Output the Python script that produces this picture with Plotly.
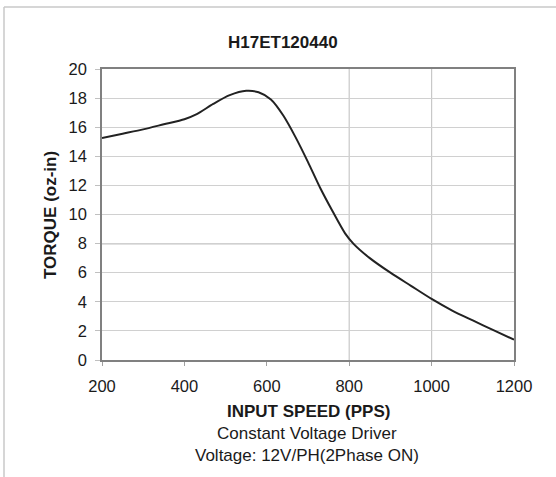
import plotly.graph_objects as go

title_text = "H17ET120440"
x_title = "INPUT SPEED (PPS)"
y_title = "TORQUE (oz-in)"
subtitle_1 = "Constant Voltage Driver"
subtitle_2 = "Voltage: 12V/PH(2Phase ON)"

speed_pps = [200, 250, 300, 350, 400, 430, 470, 510, 550, 580, 610, 640, 670, 700,
             730, 760, 790, 810, 850, 900, 950, 1000, 1050, 1100, 1150, 1200]
torque_ozin = [15.25, 15.55, 15.85, 16.2, 16.55, 16.9, 17.6, 18.2, 18.5, 18.4, 17.9,
               16.8, 15.3, 13.6, 11.8, 10.2, 8.7, 8.0, 7.0, 6.0, 5.1, 4.2, 3.4, 2.72,
               2.05, 1.4]

x_ticks = [200, 400, 600, 800, 1000, 1200]
y_ticks = [0, 2, 4, 6, 8, 10, 12, 14, 16, 18, 20]
x_grid = [800, 1000]
y_dark_grid = [8]

W, H = 556, 477
L, R, T, B = 102, 42, 69, 117
pw, ph = W - L - R, H - T - B

def px_to_paper_x(px):
    return (px - L) / pw

def py_to_paper_y(py):
    return (H - B - py) / ph

FONT = "Liberation Sans, Arial, sans-serif"
TXT = "#1a1a1a"

fig = go.Figure()
fig.add_trace(go.Scatter(
    x=speed_pps, y=torque_ozin, mode="lines",
    line=dict(color="#222222", width=2, shape="spline", smoothing=0.7),
    hoverinfo="skip", showlegend=False))

shapes = []
for gx in x_grid:
    shapes.append(dict(type="line", xref="x", yref="y domain", x0=gx, x1=gx, y0=0, y1=1,
                       line=dict(color="#c8c8c8", width=1.2), layer="below"))
for gy in y_dark_grid:
    shapes.append(dict(type="line", xref="x domain", yref="y", x0=0, x1=1, y0=gy, y1=gy,
                       line=dict(color="#888888", width=1.2), layer="below"))
# outer frame (top and left)
shapes.append(dict(type="line", xref="paper", yref="paper",
                   x0=px_to_paper_x(4), x1=px_to_paper_x(W), y0=py_to_paper_y(7), y1=py_to_paper_y(7),
                   line=dict(color="#c8c8c8", width=1.5)))
shapes.append(dict(type="line", xref="paper", yref="paper",
                   x0=px_to_paper_x(4), x1=px_to_paper_x(4), y0=py_to_paper_y(7), y1=py_to_paper_y(H),
                   line=dict(color="#c8c8c8", width=1.5)))

annotations = [
    dict(text="<b>%s</b>" % title_text, xref="paper", yref="paper",
         x=px_to_paper_x(282.5), y=py_to_paper_y(42), xanchor="center", yanchor="middle",
         showarrow=False, font=dict(size=17, family=FONT, color=TXT)),
    dict(text="<b>%s</b>" % x_title, xref="paper", yref="paper",
         x=px_to_paper_x(308), y=py_to_paper_y(411), xanchor="center", yanchor="middle",
         showarrow=False, font=dict(size=17, family=FONT, color=TXT)),
    dict(text=subtitle_1, xref="paper", yref="paper",
         x=px_to_paper_x(307), y=py_to_paper_y(433), xanchor="center", yanchor="middle",
         showarrow=False, font=dict(size=17, family=FONT, color=TXT)),
    dict(text=subtitle_2, xref="paper", yref="paper",
         x=px_to_paper_x(307), y=py_to_paper_y(455), xanchor="center", yanchor="middle",
         showarrow=False, font=dict(size=17, family=FONT, color=TXT)),
    dict(text="<b>%s</b>" % y_title, xref="paper", yref="paper",
         x=px_to_paper_x(50), y=py_to_paper_y(215), xanchor="center", yanchor="middle",
         textangle=-90, showarrow=False, font=dict(size=17, family=FONT, color=TXT)),
]

fig.update_layout(
    width=W, height=H,
    margin=dict(l=L, r=R, t=T, b=B, pad=0),
    paper_bgcolor="white", plot_bgcolor="white",
    font=dict(family=FONT, color=TXT, size=16.5),
    shapes=shapes, annotations=annotations,
    xaxis=dict(range=[200, 1200], tickvals=x_ticks, showgrid=False, zeroline=False,
               showline=True, linecolor="#808080", linewidth=1.5, mirror=True,
               ticks="outside", ticklen=4, tickcolor="#a0a0a0", tickwidth=1,
               tickfont=dict(size=16.5, family=FONT, color=TXT), ticklabelstandoff=6),
    yaxis=dict(range=[0, 20], tickvals=y_ticks, showgrid=True, gridcolor="#d0d0d0", gridwidth=1.2,
               zeroline=False, showline=True, linecolor="#808080", linewidth=1.5, mirror=True,
               ticks="outside", ticklen=5, tickcolor="#c0c0c0", tickwidth=1,
               tickfont=dict(size=16.5, family=FONT, color=TXT), ticklabelstandoff=5),
)

fig.write_html("out.html")
